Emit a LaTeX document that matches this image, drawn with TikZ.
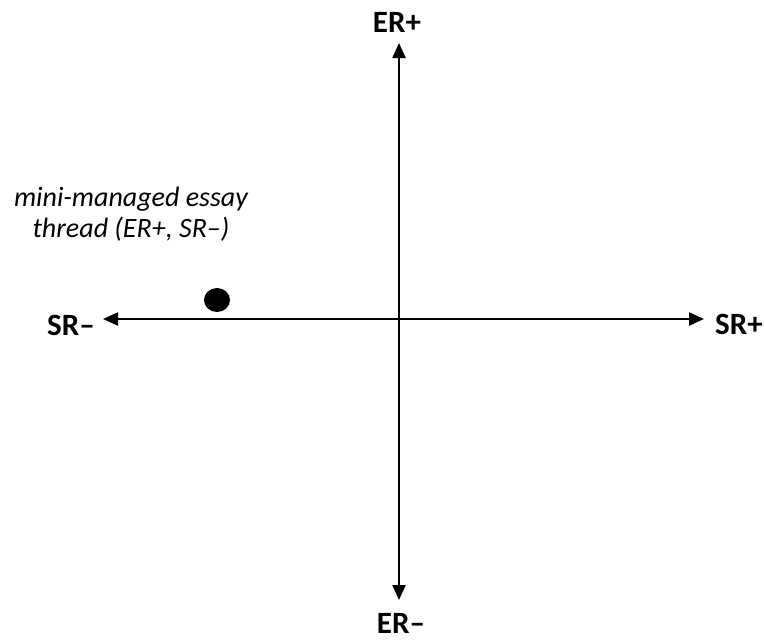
\documentclass[tikz,border=0pt]{standalone}
\usepackage{fontspec}
\setmainfont{Carlito}
\usetikzlibrary{arrows.meta}
\begin{document}
\begin{tikzpicture}[x=1pt,y=-1pt,
  axis/.style={line width=2.3pt,{Triangle[length=15pt,width=13pt]}-{Triangle[length=15pt,width=13pt]}},
  axlabel/.style={font=\fontsize{31}{36}\selectfont\bfseries,anchor=base,inner sep=0pt},
  note/.style={font=\fontsize{28}{31}\selectfont\itshape,align=center,inner sep=0pt}]
\useasboundingbox (0,0) rectangle (765,641);
\coordinate (top) at (399,43);
\coordinate (bot) at (399,600);
\coordinate (left) at (103,319);
\coordinate (right) at (704,319);
\draw[axis] (bot) -- (top);
\draw[axis] (left) -- (right);
\node[axlabel] (erp) at (397,32) {ER+};
\node[axlabel] (erm) at (401,633) {ER–};
\node[axlabel] (srm) at (71,335) {SR–};
\node[axlabel] (srp) at (739,334) {SR+};
\fill (217,300) ellipse[x radius=13,y radius=12] coordinate (dot);
\node[note,anchor=base] (lbl) at (131,237) {mini-managed essay\\thread (ER+, SR–)};
\end{tikzpicture}
\end{document}
